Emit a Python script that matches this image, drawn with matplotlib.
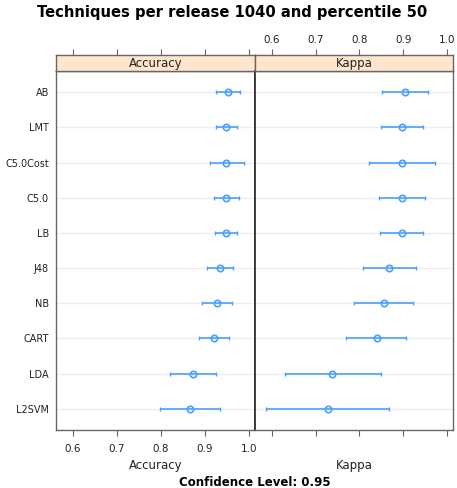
import matplotlib
matplotlib.use("Agg")
import matplotlib.pyplot as plt
import numpy as np

models = ["AB", "LMT", "C5.0Cost", "C5.0", "LB", "J48", "NB", "CART", "LDA", "L2SVM"]
acc_mid = [0.952, 0.948, 0.948, 0.948, 0.948, 0.933, 0.927, 0.920, 0.872, 0.865]
acc_lo = [0.925, 0.924, 0.911, 0.921, 0.922, 0.904, 0.894, 0.886, 0.820, 0.798]
acc_hi = [0.979, 0.973, 0.988, 0.977, 0.973, 0.964, 0.962, 0.955, 0.925, 0.933]
kap_mid = [0.903, 0.897, 0.897, 0.897, 0.896, 0.868, 0.855, 0.839, 0.738, 0.727]
kap_lo = [0.852, 0.849, 0.821, 0.844, 0.846, 0.808, 0.788, 0.770, 0.629, 0.587]
kap_hi = [0.957, 0.946, 0.972, 0.950, 0.946, 0.928, 0.923, 0.907, 0.849, 0.867]
ticks = [0.6, 0.7, 0.8, 0.9, 1.0]
tick_labels = ["0.6", "0.7", "0.8", "0.9", "1.0"]

W, H = 457, 488
fig = plt.figure(figsize=(W / 100, H / 100), dpi=100)

def rect(x0, y0, x1, y1):
    return [x0 / W, 1 - y1 / H, (x1 - x0) / W, (y1 - y0) / H]

xlim = (0.5614, 1.0136)
col = "#4aa0ff"
frame = "#666666"
ypos = np.arange(1, len(models) + 1)

panels = [("Accuracy", acc_mid, acc_lo, acc_hi, 56, 255, True),
          ("Kappa", kap_mid, kap_lo, kap_hi, 255, 453, False)]

for name, mid, lo, hi, x0, x1, is_left in panels:
    ax = fig.add_axes(rect(x0, 71, x1, 430))
    sax = fig.add_axes(rect(x0, 55, x1, 71))
    for a in (ax, sax):
        a.set_xlim(xlim)
        for s in a.spines.values():
            s.set_color(frame)
            s.set_linewidth(1.0)
    ax.set_ylim(len(models) + 0.6, 0.4)
    for y in ypos:
        ax.axhline(y, color="#eeeeee", lw=1.0, zorder=0)
    ax.hlines(ypos, lo, hi, color=col, lw=1.2, zorder=2)
    ax.plot(lo, ypos, "|", color=col, ms=3, mew=1.0, zorder=2)
    ax.plot(hi, ypos, "|", color=col, ms=3, mew=1.0, zorder=2)
    ax.plot(mid, ypos, "o", mfc="none", mec=col, ms=4.6, mew=1.2, zorder=3)
    ax.set_xticks(ticks)
    ax.tick_params(axis="x", direction="out", length=4, color=frame, labelsize=7.5, labelcolor="#222222", pad=6)
    sax.set_facecolor("#ffe5cc")
    sax.set_yticks([])
    sax.set_xticks(ticks)
    sax.text(0.5, 0.45, name, transform=sax.transAxes, ha="center", va="center", fontsize=8.5, color="#222222")
    sax.tick_params(axis="x", direction="out", length=4, color=frame, labelsize=7.5, labelcolor="#222222",
                    bottom=False, labelbottom=False, top=True, labeltop=not is_left, pad=3)
    if is_left:
        ax.set_xticklabels(tick_labels)
        ax.set_yticks(ypos)
        ax.set_yticklabels(models, fontsize=7, color="#222222")
        ax.tick_params(axis="y", length=0, pad=5)
        ax.spines["right"].set_color("#333333")
        ax.spines["right"].set_linewidth(1.3)
    else:
        ax.set_xticklabels([])
        sax.set_xticklabels(tick_labels)
        ax.set_yticks([])
        ax.spines["left"].set_color("#333333")
        ax.spines["left"].set_linewidth(1.3)
    fig.text((x0 + x1) / 2 / W, 1 - 466 / H, name, ha="center", va="center", fontsize=8.5, color="#222222")

fig.text(232.5 / W, 1 - 13 / H, "Techniques per release 1040 and percentile 50", ha="center", va="center",
         fontsize=10.6, fontweight="bold")
fig.text(255 / W, 1 - 482 / H, "Confidence Level: 0.95", ha="center", va="center", fontsize=8.5, fontweight="bold")

fig.savefig("out.png", dpi=100)
